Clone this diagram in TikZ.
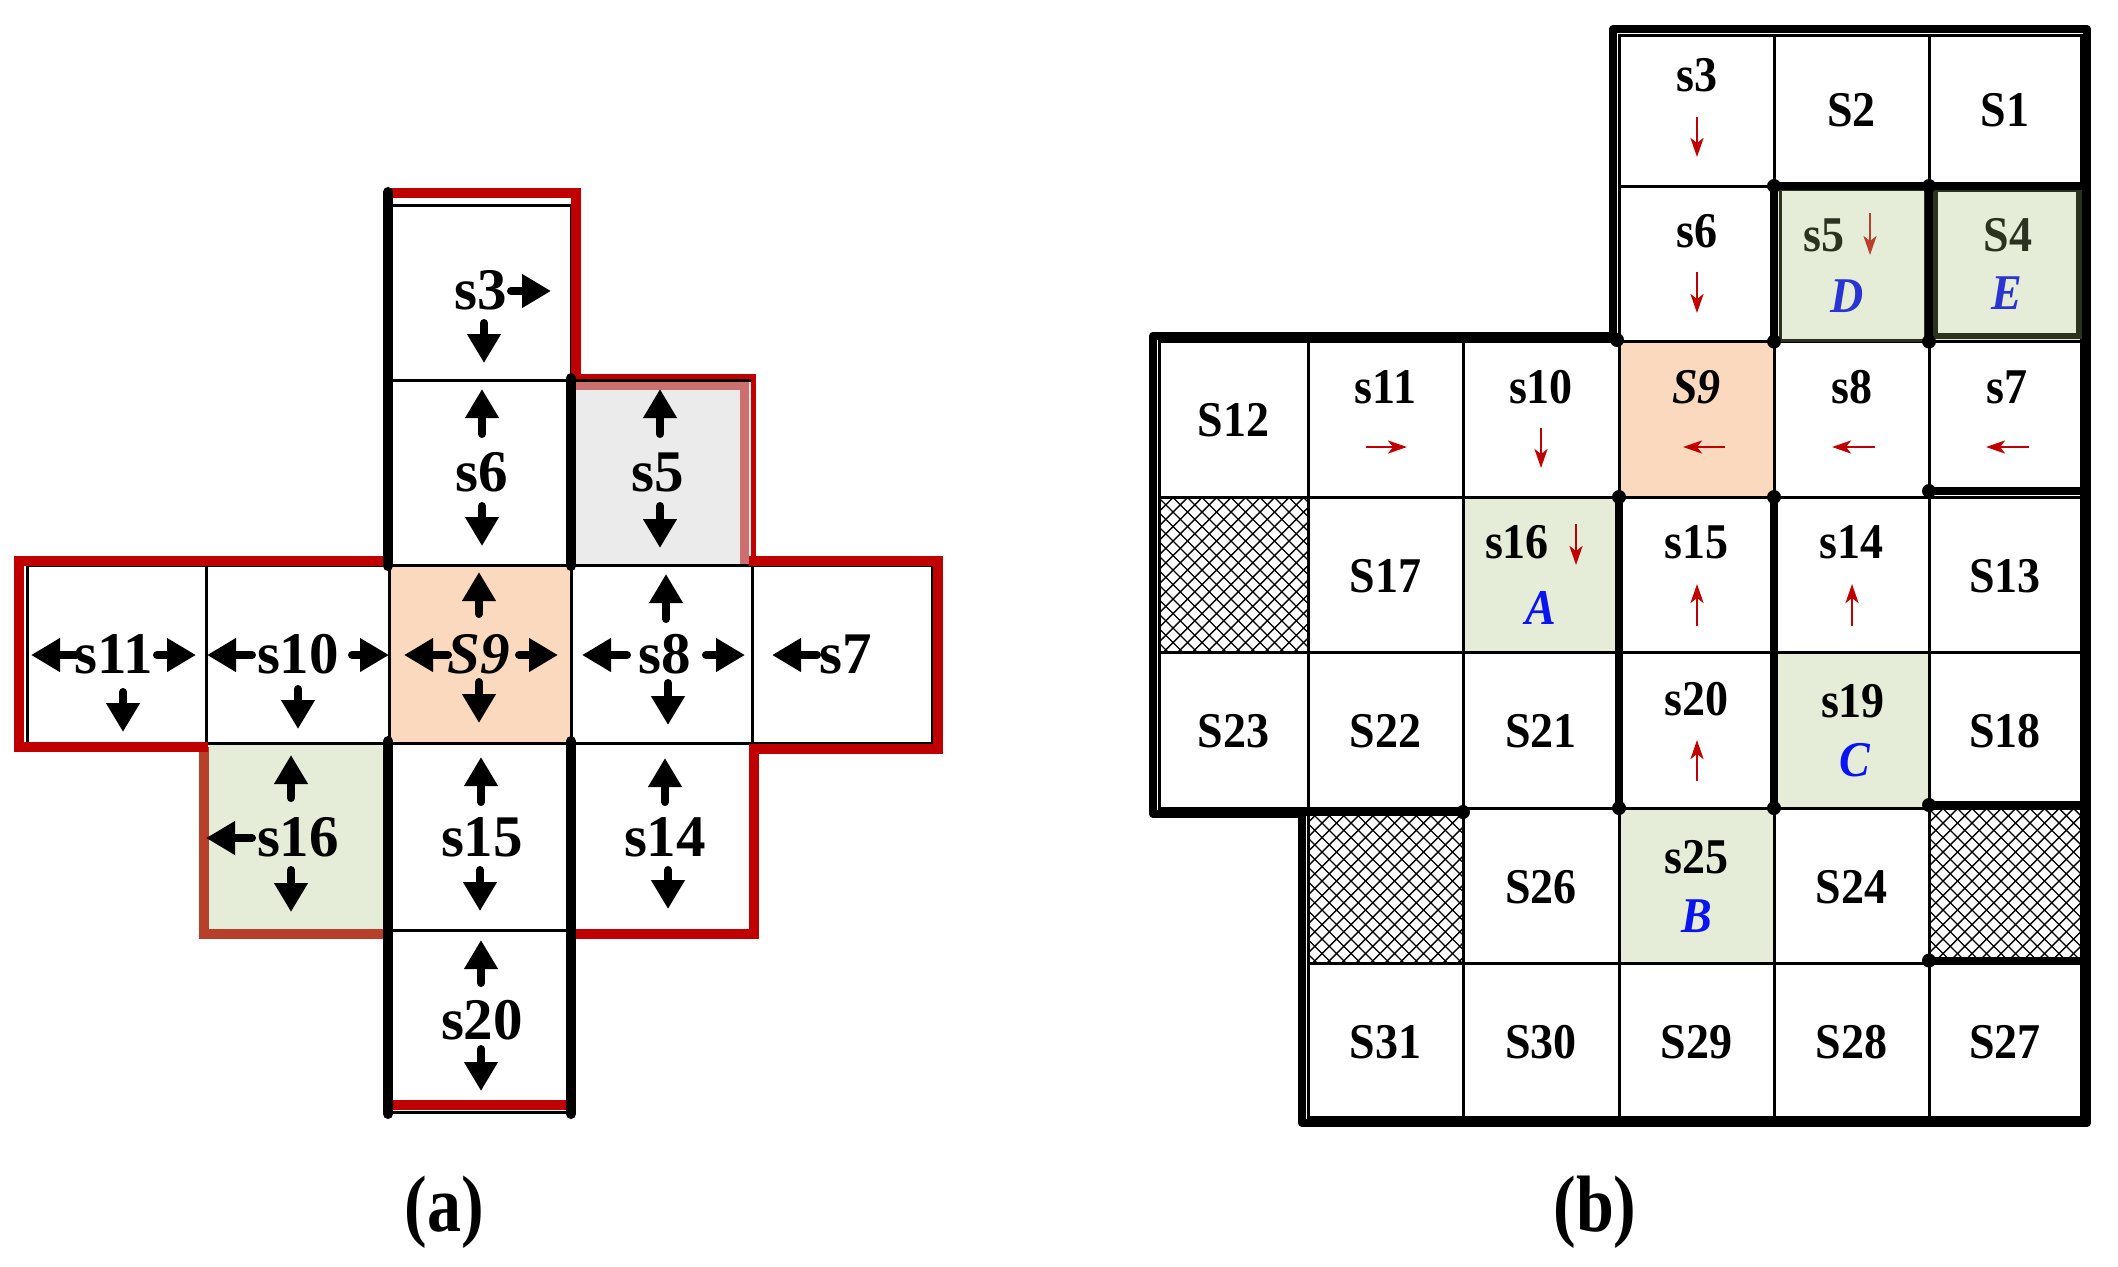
\documentclass[tikz,border=0pt]{standalone}
\usepackage{fontspec}
\usepackage{graphicx}
\newfontfamily\afont{Liberation Serif}
\newfontfamily\bfont[FakeStretch=0.92]{Liberation Serif}
\newfontfamily\capfont[FakeStretch=0.85]{Liberation Serif}
\usetikzlibrary{arrows.meta}
\definecolor{mydarkred}{HTML}{C00000}
\definecolor{peach}{HTML}{FAD9BE}
\definecolor{lgreen}{HTML}{E5ECD8}
\definecolor{lgrey}{HTML}{EBEBEB}
\definecolor{lightred}{HTML}{CD6F6F}
\definecolor{brownred}{HTML}{B8402A}
\definecolor{olive}{HTML}{2B3320}
\definecolor{blueA}{HTML}{0A14F0}
\definecolor{blueD}{HTML}{2A34D2}
\def\BX{{1159,1308,1463,1619,1774,1929,2081}}
\def\BY{{35,186,341.5,497,652.5,808,963.5,1117}}
\begin{document}
\begin{tikzpicture}[x=0.5pt,y=-0.5pt,
  cellline/.style={draw=black,line width=1.5pt},
  redline/.style={draw=mydarkred,line width=5pt,line join=miter},
  thickblk/.style={draw=black,line width=5pt,line cap=round},
  thickb/.style={draw=black,line width=4pt,line cap=round},
  outline/.style={draw=black,line width=4pt,line join=round},
  hatchline/.style={draw=black,line width=0.7pt},
  blob/.style={fill=black},
  blackarr/.style={draw=black,line width=4pt,line cap=round,-{Triangle[length=14.5pt,width=16pt]}},
  redarr/.style={draw=mydarkred,line width=1.3pt,-{Stealth[length=9.5pt,width=6.5pt,inset=2.5pt]}},
  alab/.style={font=\afont\bfseries\fontsize{29.5}{30}\selectfont,inner sep=0pt,anchor=base},
  blab/.style={font=\bfont\bfseries\fontsize{25}{26}\selectfont,inner sep=0pt,anchor=base},
  letter/.style={font=\bfont\bfseries\itshape\fontsize{25}{26}\selectfont,inner sep=0pt,anchor=base},
  caplab/.style={font=\capfont\bfseries\fontsize{40}{42}\selectfont,inner sep=0pt,anchor=base}
]
\useasboundingbox (0,0) rectangle (2118,1266);
\fill[white] (0,0) rectangle (2118,1266);

% ---------------- panel (a) ----------------
\foreach \xa/\ya/\xb/\yb/\col in {389/205/571/380/white, 389/380/571/565/white, 571/380/752/565/lgrey,
  27/565/206/743/white, 206/565/389/743/white, 389/565/571/743/peach, 571/565/752/743/white,
  752/565/932/743/white, 206/743/389/930/lgreen, 389/743/571/930/white, 571/743/752/930/white,
  389/930/571/1112/white}{
  \fill[\col] (\xa,\ya) rectangle (\xb,\yb);
}
\draw[draw=lightred,line width=4.5pt] (576,385) -- (744,385) -- (744,565);
\foreach \xa/\ya/\xb/\yb in {389/205/571/380, 389/380/571/565, 571/380/752/565,
  27/565/206/743, 206/565/389/743, 389/565/571/743, 571/565/752/743,
  752/565/932/743, 206/743/389/930, 389/743/571/930, 571/743/752/930,
  389/930/571/1112}{
  \draw[cellline] (\xa,\ya) rectangle (\xb,\yb);
}
% red outline
\draw[redline] (389,193) -- (576,193) -- (576,377);
\draw[draw=mydarkred,line width=2.5pt] (571,376) -- (753,376) -- (753,561);
\draw[redline] (749,561) -- (938,561) -- (938,749) -- (754,749) -- (754,934) -- (571,934);
\draw[redline] (571,1105) -- (389,1105);
\draw[draw=brownred,line width=5pt] (389,934) -- (204,934) -- (204,747);
\draw[redline] (208,747) -- (19,747) -- (19,561) -- (389,561);
% thick black walls
\draw[thickblk] (388,192) -- (388,566);
\draw[thickblk] (571,378) -- (571,566);
\draw[thickblk] (388,741) -- (388,1114);
\draw[thickblk] (571,741) -- (571,1114);
% labels
\node[alab] (a3) at (481,309) {s3};
\node[alab] (a6) at (482,491) {s6};
\node[alab] (a5) at (658,491) {s5};
\node[alab] (a11) at (114,673) {s11};
\node[alab] (a10) at (298,673) {s10};
\node[alab] (a9) at (479,673) {\itshape S9};
\node[alab] (a8) at (665,673) {s8};
\node[alab] (a7) at (846,673) {s7};
\node[alab] (a16) at (298,856) {s16};
\node[alab] (a15) at (482,856) {s15};
\node[alab] (a14) at (665,856) {s14};
\node[alab] (a20) at (482,1039) {s20};
% black arrows
\draw[blackarr] (511,291) -- (551,291);
\draw[blackarr] (484,323) -- (484,363);
\draw[blackarr] (482,434) -- (482,389);
\draw[blackarr] (482,506) -- (482,546);
\draw[blackarr] (660,434) -- (660,389);
\draw[blackarr] (660,506) -- (660,548);
\draw[blackarr] (76,655) -- (31,655);
\draw[blackarr] (157,655) -- (196,655);
\draw[blackarr] (123,692) -- (123,732);
\draw[blackarr] (252,655) -- (207,655);
\draw[blackarr] (352,655) -- (389,655);
\draw[blackarr] (298,689) -- (298,729);
\draw[blackarr] (479,614) -- (479,572);
\draw[blackarr] (479,682) -- (479,723);
\draw[blackarr] (448,655) -- (404,655);
\draw[blackarr] (519,655) -- (558,655);
\draw[blackarr] (666,619) -- (666,574);
\draw[blackarr] (668,683) -- (668,725);
\draw[blackarr] (627,655) -- (582,655);
\draw[blackarr] (706,655) -- (745,655);
\draw[blackarr] (817,655) -- (772,655);
\draw[blackarr] (252,838) -- (206,838);
\draw[blackarr] (291,798) -- (291,755);
\draw[blackarr] (291,870) -- (291,912);
\draw[blackarr] (481,802) -- (481,757);
\draw[blackarr] (480,870) -- (480,911);
\draw[blackarr] (665,802) -- (665,758);
\draw[blackarr] (668,870) -- (668,909);
\draw[blackarr] (481,983) -- (481,940);
\draw[blackarr] (481,1049) -- (481,1091);
\node[caplab] (capa) at (444,1231) {(a)};

% ---------------- panel (b) ----------------
\foreach \i/\j/\col in {3/0/white,4/0/white,5/0/white,
  3/1/white,4/1/lgreen,5/1/lgreen,
  0/2/white,1/2/white,2/2/white,3/2/peach,4/2/white,5/2/white,
  0/3/white,1/3/white,2/3/lgreen,3/3/white,4/3/white,5/3/white,
  0/4/white,1/4/white,2/4/white,3/4/white,4/4/lgreen,5/4/white,
  1/5/white,2/5/white,3/5/lgreen,4/5/white,5/5/white,
  1/6/white,2/6/white,3/6/white,4/6/white,5/6/white}{
  \pgfmathsetmacro\xa{\BX[\i]}
  \pgfmathsetmacro\xb{\BX[\i+1]}
  \pgfmathsetmacro\ya{\BY[\j]}
  \pgfmathsetmacro\yb{\BY[\j+1]}
  \fill[\col] (\xa,\ya) rectangle (\xb,\yb);
}
% hatched cells
\foreach \hx/\hy/\hxb/\hyb in {1159/497/1308/652.5, 1308/808/1463/963.5, 1929/808/2081/963.5}{
  \begin{scope}
    \clip (\hx,\hy) rectangle (\hxb,\hyb);
    \foreach \k in {0,...,24}{
      \draw[hatchline] ({\hx-175+\k*14.5},\hy) -- ++(180,180);
      \draw[hatchline] ({\hx+\k*14.5},\hy) -- ++(-180,180);
    }
  \end{scope}
}
% thin cell borders
\foreach \i/\j in {3/0,4/0,5/0,3/1,4/1,5/1,
  0/2,1/2,2/2,3/2,4/2,5/2,0/3,1/3,2/3,3/3,4/3,5/3,
  0/4,1/4,2/4,3/4,4/4,5/4,1/5,2/5,3/5,4/5,5/5,1/6,2/6,3/6,4/6,5/6}{
  \pgfmathsetmacro\xa{\BX[\i]}
  \pgfmathsetmacro\xb{\BX[\i+1]}
  \pgfmathsetmacro\ya{\BY[\j]}
  \pgfmathsetmacro\yb{\BY[\j+1]}
  \draw[cellline] (\xa,\ya) rectangle (\xb,\yb);
}
% olive inner borders of s5 and S4
\draw[draw=olive,line width=1.5pt] (1780,189) rectangle (1925,340);
\draw[draw=olive,line width=2.8pt] (1935,189) rectangle (2079,336);
% outer double wall
\draw[outline] (1613,29) -- (2087,29) -- (2087,1123) -- (1302,1123) -- (1302,814)
  -- (1153,814) -- (1153,335.5) -- (1613,335.5) -- cycle;
% inner thick walls
\draw[thickb] (1774,186) -- (1774,341.5);
\draw[thickb] (1929,186) -- (1929,341.5);
\draw[thickb] (1774,186) -- (2081,186);
\draw[thickb] (1619,497) -- (1619,808);
\draw[thickb] (1774,497) -- (1774,808);
\draw[thickb] (1929,491) -- (2085,491);
\draw[thickb] (1929,805) -- (2085,805);
\draw[thickb] (1929,960.5) -- (2085,960.5);
\draw[thickb] (1305,812) -- (1463,812);
\foreach \bx/\by in {1774/186,1929/186,1774/341.5,1929/341.5,1617/340,
  1619/497,1774/497,1619/808,1774/808,1929/491,1929/805,1929/960.5,1463/812}{
  \fill[blob] (\bx,\by) circle[radius=7];
}
% labels (b)
\node[blab] (b2) at (1851.5,126) {S2};
\node[blab] (b1) at (2005,126) {S1};
\node[blab] (b12) at (1233.5,436) {S12};
\node[blab] (b17) at (1385.5,592) {S17};
\node[blab] (b13) at (2005,592) {S13};
\node[blab] (b23) at (1233.5,747) {S23};
\node[blab] (b22) at (1385.5,747) {S22};
\node[blab] (b21) at (1541,747) {S21};
\node[blab] (b18) at (2005,747) {S18};
\node[blab] (b26) at (1541,903) {S26};
\node[blab] (b24) at (1851.5,903) {S24};
\node[blab] (b31) at (1385.5,1058) {S31};
\node[blab] (b30) at (1541,1058) {S30};
\node[blab] (b29) at (1696.5,1058) {S29};
\node[blab] (b28) at (1851.5,1058) {S28};
\node[blab] (b27) at (2005,1058) {S27};
\node[blab] (b3) at (1697,91) {s3};
\node[blab] (b6) at (1697,247) {s6};
\node[blab,text=olive] (b5) at (1824,251) {s5};
\node[letter,text=blueD] (bD) at (1847,312) {D};
\node[blab,text=olive] (b4) at (2008,251) {S4};
\node[letter,text=blueD] (bE) at (2007,309) {E};
\node[blab] (b11) at (1385.5,403) {s11};
\node[blab] (b10) at (1541,403) {s10};
\node[blab] (b9) at (1696.5,403) {\itshape S9};
\node[blab] (b8) at (1852,403) {s8};
\node[blab] (b7) at (2007,403) {s7};
\node[blab] (b16) at (1517,558) {s16};
\node[letter,text=blueA] (bA) at (1541,624) {A};
\node[blab] (b15) at (1696.5,558) {s15};
\node[blab] (b14) at (1851.5,558) {s14};
\node[blab] (b20) at (1696.5,715) {s20};
\node[blab] (b19) at (1853,717) {s19};
\node[letter,text=blueA] (bC) at (1855,776) {C};
\node[blab] (b25) at (1696.5,873) {s25};
\node[letter,text=blueA] (bB) at (1697,932) {B};
% red arrows
\draw[redarr] (1697,117) -- (1697,157);
\draw[redarr] (1697,272) -- (1697,313);
\draw[redarr,draw=brownred] (1870,213) -- (1870,255);
\draw[redarr] (1366,447) -- (1407,447);
\draw[redarr] (1541,428) -- (1541,468);
\draw[redarr] (1725,447) -- (1683,447);
\draw[redarr] (1875,447) -- (1832,447);
\draw[redarr] (2029,447) -- (1986,447);
\draw[redarr] (1576,524) -- (1576,565);
\draw[redarr] (1697,626) -- (1697,584);
\draw[redarr] (1852,626) -- (1852,584);
\draw[redarr] (1697,781) -- (1697,740);
\node[caplab] (capb) at (1595,1231) {(b)};
\end{tikzpicture}
\end{document}
